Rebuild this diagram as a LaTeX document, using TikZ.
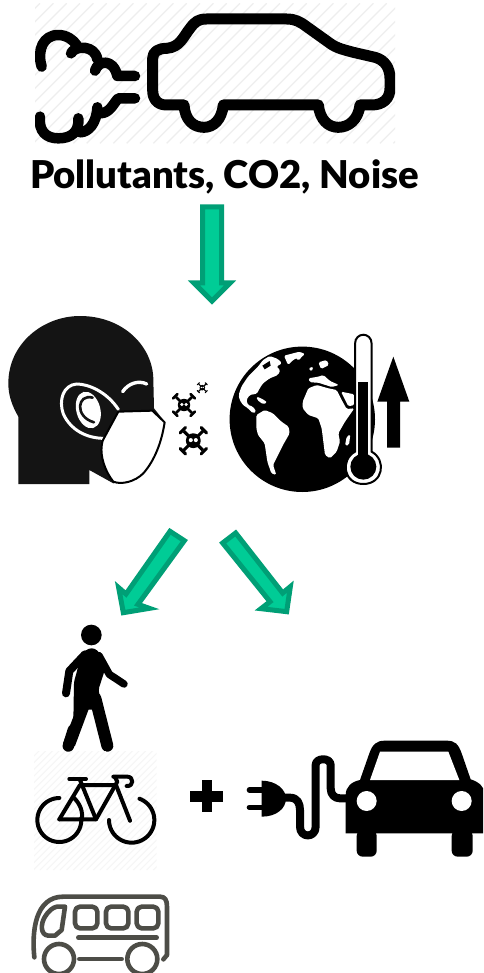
\documentclass[tikz,border=0pt]{standalone}
\usepackage{fontspec}
\setmainfont{Lato}[BoldFont={Lato Black}]
\definecolor{arrowfill}{HTML}{00CC96}
\definecolor{arrowedge}{HTML}{009F76}
\definecolor{busgray}{HTML}{4D4D47}
\definecolor{hatchA}{HTML}{EEEEEE}
\definecolor{hatchB}{HTML}{F6F6F6}
\tikzset{
  greenarrow/.style={fill=arrowfill,draw=arrowedge,line width=5pt,miter limit=10},
  iconline/.style={draw=black,line cap=round,line join=round},
  land/.style={fill=white,draw=none,rounded corners=1.5pt},
}
\newcommand{\skullicon}[3]{%
  \begin{scope}[shift={(#1,#2)},scale=#3]
    \draw[line width=#3*2.6pt] (-8,-8) -- (8,8) (-8,8) -- (8,-8);
    \draw[line width=#3*2.6pt,line cap=round] (-11,-6.5) -- (-6.5,-11) (6.5,-11) -- (11,-6.5) (-11,6.5) -- (-6.5,11) (6.5,11) -- (11,6.5);
    \fill (0,0) circle (6.2);
    \fill[white] (-2.1,-0.5) circle (1.7) (2.1,-0.5) circle (1.7);
  \end{scope}}
\begin{document}
\begin{tikzpicture}[x=1pt,y=-1pt]
\useasboundingbox (0,0) rectangle (483,973);
\clip (0,0) rectangle (483,973);
\fill[white] (0,0) rectangle (483,973);

% ---- polluting car
\begin{scope}[shift={(20,0)},x=0.33333pt,y=-0.33333pt]
  \begin{scope}
    \clip (45,12) rectangle (1125,430);
    \foreach \k in {-400,-360,...,1500}
      \draw[hatchA,line width=1.2pt] (\k,430) -- (\k+420,10);
    \begin{scope}[iconline,line width=11pt]
      \draw (492,315) -- (440,315) .. controls (410,315) and (398,295) .. (398,270) -- (398,175)
        .. controls (398,155) and (415,145) .. (440,145) .. controls (480,142) and (490,110) .. (510,85)
        .. controls (525,65) and (535,57) .. (560,57) -- (800,57) .. controls (825,57) and (840,65) .. (860,80)
        -- (930,130) .. controls (950,145) and (975,150) .. (1000,157) -- (1065,172)
        .. controls (1095,180) and (1110,205) .. (1110,235) -- (1110,265) .. controls (1110,295) and (1090,315) .. (1055,315) -- (1020,315)
        .. controls (1015,360) and (985,382) .. (955,382) .. controls (925,382) and (900,360) .. (895,315)
        -- (610,315) .. controls (605,360) and (580,382) .. (552,382) .. controls (520,382) and (495,360) .. (492,315);
      \draw[line width=10.5pt] (65,200) .. controls (50,150) and (70,105) .. (115,105) .. controls (140,105) and (160,120) .. (170,135);
      \draw[line width=10.5pt] (153,160) .. controls (165,135) and (225,135) .. (232,178);
      \draw[line width=10.5pt] (225,212) .. controls (235,180) and (280,175) .. (292,228) -- (345,228);
      \draw[line width=10.5pt] (60,350) .. controls (55,395) and (80,415) .. (115,415) .. controls (155,415) and (178,395) .. (175,355);
      \draw[line width=10.5pt] (180,397) .. controls (205,397) and (230,370) .. (232,322);
      \draw[line width=10.5pt] (240,340) .. controls (270,340) and (280,310) .. (295,295) -- (345,295);
    \end{scope}
  \end{scope}
\end{scope}

\node[anchor=base,inner sep=0pt,font=\fontsize{38.3}{38.3}\selectfont\bfseries] (title) at (224.5,188.5) {Pollutants, CO2, Noise};

% ---- green arrows
\begin{scope}[shift={(100,195)},x=0.33333pt,y=-0.33333pt]
  \draw[greenarrow] (308,36) -- (365,36) -- (365,264) -- (390,264) -- (336,318) -- (282,264) -- (308,264) -- cycle;
  \draw[greenarrow] (210,1009) -- (253,1037) -- (114,1228) -- (148,1240) -- (70,1253) -- (56,1178) -- (78,1197) -- cycle;
  \draw[greenarrow] (407,1014) -- (368,1044) -- (510,1220) -- (483,1241) -- (560,1250) -- (571,1175) -- (548,1194) -- cycle;
\end{scope}

% ---- head with mask
\begin{scope}[shift={(0,310)},x=0.33333pt,y=-0.33333pt]
  \fill[black!92] (55,522) -- (55,320) .. controls (35,285) and (25,255) .. (25,220)
    .. controls (25,100) and (130,18) .. (240,18) .. controls (370,18) and (460,110) .. (460,210)
    -- (462,295) -- (490,330) -- (400,500) -- (340,520) -- (268,480) -- (268,522) -- cycle;
  \draw[white,line width=3pt,line cap=round] (355,298) .. controls (320,245) and (265,222) .. (230,222)
    .. controls (190,225) and (175,270) .. (190,312) .. controls (212,360) and (260,385) .. (312,385);
  \fill[white] (265,300) ellipse [x radius=36,y radius=56,rotate=15];
  \draw[black!92,line width=2.6pt,line cap=round] (278,263) .. controls (232,250) and (222,320) .. (282,337);
  \draw[white,line width=3.4pt,line cap=round] (368,245) .. controls (385,220) and (415,210) .. (440,222);
  \filldraw[fill=white,draw=black,line width=2pt,line join=round] (355,305) -- (457,302) -- (494,337)
    .. controls (485,395) and (465,450) .. (430,490) .. controls (405,515) and (365,525) .. (340,515)
    .. controls (320,490) and (295,440) .. (308,392) -- cycle;
\end{scope}

% ---- pollutant particles
\skullicon{184}{405}{1}
\skullicon{193.3}{440.7}{1.2}
\skullicon{202.3}{387.7}{0.45}

% ---- globe
\fill (302.3,419.3) circle (72.7);
\begin{scope}[shift={(228,345)},x=0.33333pt,y=-0.33333pt]
  \begin{scope}
    \clip (222.9,223) circle (216);
    \fill[land] (32,150) -- (40,125) -- (60,95) -- (90,65) -- (105,45) -- (125,33) -- (150,42) -- (162,55) -- (145,65) -- (157,75) -- (150,90) -- (125,100) -- (105,115) -- (95,130) -- (87,146) -- (65,150) -- (55,165) -- (60,180) -- (75,185) -- (85,200) -- (75,205) -- (60,190) -- (45,180) -- (35,165) -- cycle;
    \fill[black] (103,62) -- (125,48) -- (128,62) -- (110,73) -- cycle;
    \fill[land] (85,155) -- (100,160) -- (118,172) -- (105,178) -- (88,165) -- cycle;
    \fill[land] (168,32) -- (215,20) -- (232,28) -- (195,45) -- (180,60) -- cycle;
    \fill[land] (85,210) -- (110,195) -- (135,205) -- (160,230) -- (182,245) -- (185,265) -- (165,300) -- (145,340) -- (135,360) -- (145,390) -- (130,385) -- (118,350) -- (110,295) -- (90,270) -- (85,250) -- cycle;
  \end{scope}
\end{scope}
\begin{scope}[shift={(295,345)},x=0.33333pt,y=-0.33333pt]
  \begin{scope}
    \clip (22,223) circle (218);
    \fill[land] (23,170) -- (40,130) -- (65,120) -- (100,130) -- (125,135) -- (140,165) -- (155,192) -- (178,190) -- (150,230) -- (130,265) -- (135,290) -- (125,320) -- (105,340) -- (90,330) -- (85,290) -- (80,250) -- (70,220) -- (40,210) -- (23,190) -- cycle;
    \fill[land] (138,140) -- (178,148) -- (178,180) -- (160,184) -- cycle;
    \fill[land] (40,100) -- (70,95) -- (85,90) -- (105,108) -- (132,120) -- (110,126) -- (70,113) -- (45,112) -- cycle;
    \fill[land] (95,45) -- (102,60) -- (78,72) -- (70,52) -- cycle;
    \fill[land] (40,70) -- (55,65) -- (50,80) -- cycle;
    \fill[land] (0,35) -- (30,25) -- (10,47) -- cycle;
    \fill[land] (155,275) -- (166,268) -- (162,300) -- (150,302) -- cycle;
  \end{scope}
\end{scope}

% ---- thermometer and up arrow
\begin{scope}[shift={(220,320)},x=0.33333pt,y=-0.33333pt]
  \filldraw[fill=white,draw=black,line width=2pt] (405,72) .. controls (405,35) and (455,35) .. (455,72) -- (455,395)
    .. controls (500,420) and (490,492) .. (430,492) .. controls (370,492) and (360,420) .. (405,395) -- cycle;
  \fill (415,185) rectangle (445,420);
  \fill (430,440) circle (39);
  \fill (520,110) -- (568,245) -- (540,245) -- (540,383) -- (501,383) -- (501,245) -- (472,245) -- cycle;
\end{scope}

% ---- pedestrian
\begin{scope}[shift={(20,615)},x=0.33333pt,y=-0.33333pt]
  \fill (214,60) circle (31);
  \fill[rounded corners=3pt] (172,165) -- (180,122) -- (205,100) -- (225,100) -- (240,115) -- (256,160) -- (235,225) -- (252,290) -- (205,282) -- (160,320) -- (162,200) -- cycle;
  \draw[iconline,line width=8pt] (195,118) -- (148,168) -- (138,235);
  \draw[iconline,line width=7.5pt] (237,122) -- (268,178) -- (312,207);
  \fill[rounded corners=2pt] (163,298) -- (207,280) -- (163,398) -- (128,388) -- cycle;
  \draw[iconline,line width=11.5pt] (160,345) -- (145,393);
  \draw[iconline,line width=12pt] (226,250) -- (262,392);
\end{scope}

% ---- bicycle
\begin{scope}[shift={(20,615)},x=0.33333pt,y=-0.33333pt]
  \begin{scope}
    \clip (42,410) rectangle (410,765);
    \foreach \k in {-300,-280,...,800}
      \draw[hatchB,line width=1pt] (\k,765) -- (\k+360,405);
  \end{scope}
\end{scope}
\begin{scope}[shift={(30,760)},x=0.33333pt,y=-0.33333pt]
  \begin{scope}[iconline,line width=4pt]
    \draw plot[smooth,samples=40,domain=-90:-365,variable=\t] ({88+66*cos(\t)},{180+66*sin(\t)});
    \draw plot[smooth,samples=40,domain=180:-70,variable=\t] ({305+68*cos(\t)},{180+68*sin(\t)});
    \draw (88,178) -- (198,178) -- (262,65) -- (255,52);
    \draw (88,178) -- (150,75) -- (258,75);
    \draw (150,60) -- (198,178);
    \draw (130,112) .. controls (150,130) and (160,155) .. (155,180);
    \draw (118,57) -- (168,57);
    \draw (258,75) -- (300,182);
    \draw (250,50) -- (292,50) .. controls (312,50) and (312,80) .. (290,78);
  \end{scope}
\end{scope}

% ---- bus
\begin{scope}[shift={(20,615)},x=0.33333pt,y=-0.33333pt]
  \begin{scope}[draw=busgray,line cap=round,line join=round,line width=4.6pt]
    \draw (43,1027) .. controls (35,950) and (45,845) .. (130,845) -- (420,845) .. controls (435,845) and (441,855) .. (441,875) -- (441,1020) -- (430,1033);
    \draw (110,875) -- (135,875) -- (125,945) -- (105,962) -- (85,962) .. controls (60,960) and (62,925) .. (75,905) .. controls (85,888) and (98,878) .. (110,875);
    \draw[rounded corners=5pt] (165,875) rectangle (232,940);
    \draw[rounded corners=5pt] (258,875) rectangle (325,940);
    \draw[rounded corners=5pt] (350,875) rectangle (415,940);
    \draw (175,968) -- (410,968);
    \draw (117,1032) circle (45);
    \draw (367,1032) circle (45);
    \draw (178,1032) -- (305,1032);
  \end{scope}
\end{scope}

% ---- plus, plug and electric car
\begin{scope}[shift={(180,730)},x=0.33333pt,y=-0.33333pt]
  \fill (31,182) rectangle (128,215);
  \fill (65,150) rectangle (95,247);
  \fill (245,152) .. controls (290,152) and (318,180) .. (318,205) .. controls (318,235) and (290,260) .. (245,260) -- cycle;
  \draw[iconline,line width=5.3pt] (208,180) -- (250,180) (208,232) -- (250,232);
  \draw[iconline,line width=8pt,line cap=butt] (310,203) -- (330,203) .. controls (352,203) and (360,220) .. (360,240) -- (360,290)
    .. controls (360,325) and (407,325) .. (407,290) -- (407,105) .. controls (407,82) and (452,82) .. (452,105) -- (452,175)
    .. controls (452,195) and (465,205) .. (480,205) -- (510,205);
  \fill[rounded corners=6pt] (530,300) rectangle (590,380);
  \fill[rounded corners=6pt] (815,300) rectangle (878,380);
  \fill (497,310) -- (497,195) .. controls (497,170) and (515,155) .. (540,150) -- (568,70)
    .. controls (578,42) and (590,32) .. (615,32) -- (800,32) .. controls (825,32) and (835,42) .. (845,70)
    -- (872,148) .. controls (895,155) and (915,170) .. (915,195) -- (915,310) -- cycle;
  \fill[white] (570,150) -- (600,65) -- (805,65) -- (838,150) -- cycle;
  \fill[white] (560,213) circle (30) (845,213) circle (30);
\end{scope}
\end{tikzpicture}
\end{document}
